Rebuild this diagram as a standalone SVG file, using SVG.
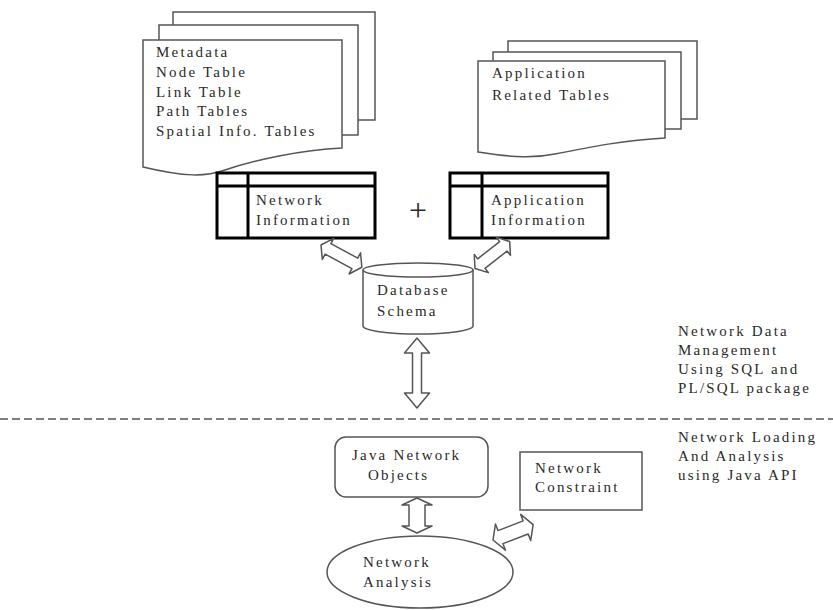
<svg xmlns="http://www.w3.org/2000/svg" width="833" height="610" viewBox="0 0 833 610">
  <style>
    .bg { fill: #ffffff; }
    .page { fill: #ffffff; stroke: #555555; stroke-width: 1.5; }
    .shape { fill: #ffffff; stroke: #555555; stroke-width: 1.5; }
    .table { fill: #ffffff; stroke: #000000; stroke-width: 3; }
    .tline { fill: none; stroke: #000000; stroke-width: 3; }
    .barrow { fill: #ffffff; stroke: #555555; stroke-width: 1.5; stroke-linejoin: round; }
    .divider { fill: none; stroke: #555555; stroke-width: 1.5; stroke-dasharray: 8 4; }
    text { font-family: "Liberation Serif", "Times New Roman", serif; font-size: 15px; fill: #2a2a2a; letter-spacing: 2.2px; }
    .plus { font-size: 32px; letter-spacing: 0; }
  </style>

  <rect class="bg" x="0" y="0" width="833" height="610"/>

  <!-- Stack of network table documents -->
  <g id="network-tables">
    <rect class="page" x="173" y="12" width="202" height="108"/>
    <rect class="page" x="159" y="25" width="199" height="110"/>
    <path class="page" d="M143,40 H342 V148 C300,150 255,160 225,170 C205,177 185,177 143,167 Z"/>
    <text x="156" y="57">Metadata</text>
    <text x="156" y="77">Node Table</text>
    <text x="156" y="96.5">Link Table</text>
    <text x="156" y="116">Path Tables</text>
    <text x="156" y="135.5">Spatial Info. Tables</text>
  </g>

  <!-- Stack of application table documents -->
  <g id="application-tables">
    <rect class="page" x="508" y="41" width="189" height="78"/>
    <rect class="page" x="493" y="52" width="188" height="77"/>
    <path class="page" d="M478,61 H665 V138 C625,140 590,147 555,154 C535,158 515,158 478,152 Z"/>
    <text x="492" y="78">Application</text>
    <text x="492" y="100">Related Tables</text>
  </g>

  <!-- Network information table -->
  <g id="network-information">
    <rect class="table" x="217" y="173" width="158" height="65"/>
    <line class="tline" x1="217" y1="186" x2="375" y2="186"/>
    <line class="tline" x1="248" y1="173" x2="248" y2="238"/>
    <text x="256" y="205">Network</text>
    <text x="256" y="225">Information</text>
  </g>

  <g id="plus-sign">
    <text class="plus" x="418" y="221" text-anchor="middle">+</text>
  </g>

  <!-- Application information table -->
  <g id="application-information">
    <rect class="table" x="450" y="173" width="158" height="65"/>
    <line class="tline" x1="450" y1="186" x2="608" y2="186"/>
    <line class="tline" x1="482" y1="173" x2="482" y2="238"/>
    <text x="491" y="205">Application</text>
    <text x="491" y="225">Information</text>
  </g>

  <!-- Database schema cylinder -->
  <g id="database-schema">
    <path class="shape" d="M363,270 V326 A55,8 0 0 0 473,326 V270"/>
    <ellipse class="shape" cx="418" cy="270" rx="55" ry="7"/>
    <text x="377" y="295">Database</text>
    <text x="377" y="316">Schema</text>
  </g>

  <!-- Section divider -->
  <g id="divider">
    <line class="divider" x1="0" y1="419" x2="833" y2="419"/>
  </g>

  <g id="java-network-objects">
    <rect class="shape" x="335" y="437" width="153" height="60" rx="11" ry="11"/>
    <text x="352" y="460">Java Network</text>
    <text x="368" y="480">Objects</text>
  </g>

  <g id="network-constraint">
    <rect class="shape" x="520" y="452" width="122" height="58"/>
    <text x="535" y="473">Network</text>
    <text x="535" y="492">Constraint</text>
  </g>

  <g id="network-analysis">
    <ellipse class="shape" cx="420" cy="572" rx="93" ry="36"/>
    <text x="363" y="567">Network</text>
    <text x="363" y="587">Analysis</text>
  </g>

  <g id="side-labels">
    <text x="678" y="336">Network Data</text>
    <text x="678" y="355">Management</text>
    <text x="678" y="374">Using SQL and</text>
    <text x="678" y="393">PL/SQL package</text>
    <text x="678" y="442">Network Loading</text>
    <text x="678" y="461">And Analysis</text>
    <text x="678" y="480">using Java API</text>
  </g>

  <!-- Double-headed block arrows -->
  <g id="connectors">
    <polygon class="barrow" transform="translate(321,245) rotate(28.6)"
      points="0,0 8,-12 8,-6 38.5,-6 38.5,-12 46.5,0 38.5,12 38.5,6 8,6 8,12"/>
    <polygon class="barrow" transform="translate(475,268.5) rotate(-38)"
      points="0,0 8,-11.5 8,-6 36,-6 36,-11.5 44,0 36,11.5 36,6 8,6 8,11.5"/>
    <polygon class="barrow" transform="translate(417,338) rotate(90)"
      points="0,0 15,-12.5 15,-4.5 55,-4.5 55,-12.5 70,0 55,12.5 55,4.5 15,4.5 15,12.5"/>
    <polygon class="barrow" transform="translate(417,498) rotate(90)"
      points="0,0 7,-15 7,-8 28,-8 28,-15 35,0 28,15 28,8 7,8 7,15"/>
    <polygon class="barrow" transform="translate(493,540) rotate(-21)"
      points="0,0 8,-14 8,-7 35,-7 35,-14 43,0 35,14 35,7 8,7 8,14"/>
  </g>
</svg>
